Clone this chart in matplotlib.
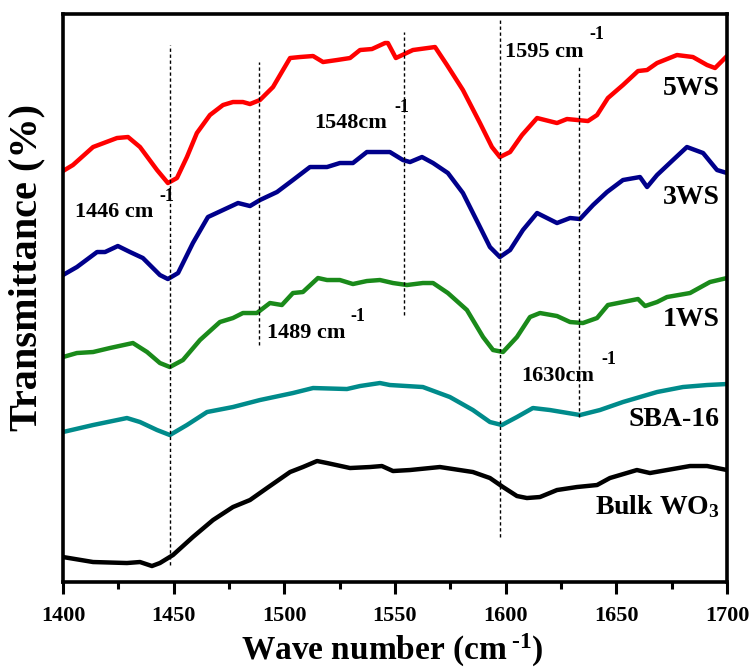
import numpy as np
import matplotlib
matplotlib.use("Agg")
import matplotlib.pyplot as plt

plt.rcParams['font.family'] = ['Liberation Serif', 'DejaVu Serif']
plt.rcParams['font.weight'] = 'bold'
plt.rcParams['mathtext.fontset'] = 'custom'
plt.rcParams['mathtext.rm'] = 'Liberation Serif:bold'
plt.rcParams['mathtext.bf'] = 'Liberation Serif:bold'
plt.rcParams['mathtext.it'] = 'Liberation Serif:bold:italic'

# FTIR spectra, offset stacked (arbitrary transmittance units)
wn_5ws = [1400, 1404.5, 1413.6, 1424.4, 1429.4, 1434.8, 1442.5, 1447.4, 1451.5, 1456.0,
          1460.5, 1466.4, 1472.3, 1476.8, 1481.3, 1484.5, 1489.0, 1494.9, 1499.4, 1502.6,
          1507.1, 1513.0, 1517.5, 1523.8, 1529.7, 1534.2, 1539.6, 1545.5, 1546.8, 1550.4,
          1558.1, 1568.1, 1573.5, 1580.7, 1588.4, 1593.8, 1597.4, 1602.0, 1607.4, 1614.2,
          1623.2, 1627.7, 1637.2, 1641.3, 1646.2, 1653.0, 1659.8, 1663.9, 1668.4, 1677.4,
          1684.6, 1691.0, 1694.6, 1700]
t_5ws = [411, 417, 435, 444, 445, 435, 412, 399, 404, 425,
         449, 467, 477, 480, 480, 478, 482, 495, 512, 524,
         525, 526, 520, 522, 524, 532, 533, 539, 539, 524,
         532, 535, 517, 492, 459, 435, 425, 430, 447, 464,
         459, 463, 461, 467, 484, 497, 511, 512, 519, 527,
         525, 517, 514, 526]

wn_3ws = [1400, 1406.3, 1415.4, 1419.0, 1424.8, 1430.3, 1436.1, 1443.8, 1447.4, 1452.0,
          1458.7, 1465.5, 1472.3, 1479.1, 1484.5, 1489.0, 1496.7, 1503.9, 1511.6, 1519.3,
          1525.1, 1531.0, 1537.3, 1541.9, 1547.7, 1553.6, 1556.8, 1562.2, 1567.2, 1573.9,
          1580.7, 1587.5, 1592.9, 1597.4, 1602.0, 1607.8, 1614.2, 1623.2, 1629.1, 1633.6,
          1639.5, 1645.8, 1653.0, 1660.7, 1663.9, 1668.4, 1675.6, 1681.9, 1689.2, 1695.5,
          1700]
t_3ws = [307, 315, 330, 330, 336, 330, 324, 307, 303, 309,
         339, 365, 372, 379, 376, 382, 390, 402, 415, 415,
         419, 419, 430, 430, 430, 422, 420, 425, 419, 409,
         389, 359, 335, 325, 332, 352, 369, 359, 364, 363,
         377, 390, 402, 405, 395, 407, 422, 435, 429, 412,
         409]

wn_1ws = [1400, 1406.3, 1413.6, 1421.2, 1431.6, 1438.0, 1443.8, 1448.3, 1454.2, 1461.9,
          1470.9, 1476.8, 1481.3, 1487.6, 1493.5, 1498.9, 1503.9, 1508.4, 1515.2, 1519.3,
          1525.1, 1531.0, 1537.3, 1543.2, 1549.1, 1555.4, 1562.6, 1567.2, 1573.9, 1582.5,
          1589.8, 1594.3, 1598.8, 1605.1, 1611.0, 1615.5, 1623.2, 1629.1, 1634.9, 1641.3,
          1646.2, 1653.0, 1659.8, 1663.0, 1668.4, 1672.9, 1683.3, 1692.3, 1700]
t_1ws = [225, 229, 230, 234, 239, 230, 219, 215, 222, 242,
         260, 264, 269, 269, 279, 277, 289, 290, 304, 302,
         302, 298, 301, 302, 299, 297, 299, 299, 289, 272,
         245, 232, 230, 245, 265, 269, 266, 260, 259, 264,
         277, 280, 283, 276, 280, 285, 289, 300, 304]

wn_sba = [1400, 1413.6, 1428.9, 1434.8, 1442.5, 1448.3, 1456.0, 1465.1, 1476.8, 1489.0,
          1503.9, 1513.0, 1528.3, 1534.2, 1543.2, 1547.7, 1562.6, 1574.8, 1585.2, 1592.9,
          1598.3, 1605.1, 1612.3, 1620.0, 1633.6, 1642.6, 1653.0, 1668.4, 1680.1, 1691.0,
          1700]
t_sba = [150, 157, 164, 160, 152, 147, 157, 170, 175, 182,
         189, 194, 193, 196, 199, 197, 195, 185, 172, 160,
         157, 165, 174, 172, 167, 172, 180, 190, 195, 197,
         198]

wn_wo3 = [1400, 1413.6, 1428.9, 1434.8, 1440.2, 1443.8, 1449.7, 1458.7, 1467.8, 1476.8,
          1484.5, 1492.2, 1502.6, 1508.4, 1514.8, 1519.3, 1529.7, 1538.7, 1544.1, 1549.1,
          1556.8, 1570.3, 1585.2, 1592.9, 1598.8, 1605.1, 1609.6, 1615.5, 1623.2, 1632.2,
          1641.3, 1647.1, 1659.3, 1665.2, 1672.9, 1683.3, 1691.0, 1700]
t_wo3 = [25, 20, 19, 20, 16, 19, 27, 45, 62, 75,
         82, 94, 110, 115, 121, 119, 114, 115, 116, 111,
         112, 115, 110, 104, 95, 86, 84, 85, 92, 95,
         97, 104, 112, 109, 112, 116, 116, 112]

series = [
    (wn_5ws, t_5ws, '#ff0000', '5WS', 494),
    (wn_3ws, t_3ws, '#00008b', '3WS', 385),
    (wn_1ws, t_1ws, '#1a8a1a', '1WS', 263),
    (wn_sba, t_sba, '#008b8b', 'SBA-16', 163),
    (wn_wo3, t_wo3, '#000000', 'Bulk WO$_3$', 75),
]

# band positions marked by dashed guides: (wavenumber, lower, upper)
peak_wn = [1448.3, 1488.7, 1554.1, 1597.4, 1633.3]
peak_lo = [17, 237, 267, 45, 165]
peak_hi = [537, 520, 550, 564, 515]

# band labels: text, text position, superscript position
band_text = ['1446 cm', '1548cm', '1595 cm', '1489 cm', '1630cm']
band_xy = [(1423.0, 370), (1530.0, 459), (1617.5, 530), (1510.0, 249), (1623.5, 206)]
band_sup = [(1447.0, 386), (1553.0, 475), (1641.0, 548), (1533.0, 266), (1646.5, 223)]

fig = plt.figure(figsize=(7.55, 6.71), dpi=100)
ax = fig.add_axes([0.0834, 0.1326, 0.8795, 0.8465])

for wn, t, c, name, ty in series:
    ax.plot(wn, t, color=c, lw=3.2, solid_joinstyle='round', solid_capstyle='round')
    ax.text(1696.8, ty, name, ha='right', va='center', fontsize=20, fontweight='bold')

for x, lo, hi in zip(peak_wn, peak_lo, peak_hi):
    ax.plot([x, x], [lo, hi], color='black', lw=1.0, dashes=(2.4, 1.9))

for s, (x, y), (sx, sy) in zip(band_text, band_xy, band_sup):
    ax.text(x, y, s, ha='center', va='center', fontsize=16, fontweight='bold')
    ax.text(sx, sy, '-1', ha='center', va='center', fontsize=13, fontweight='bold')

ax.set_xlim(1400, 1700)
ax.set_ylim(0, 568)
ax.set_xticks(np.arange(1400, 1701, 50))
ax.set_xticks(np.arange(1425, 1700, 50), minor=True)
ax.set_yticks([])
ax.tick_params(axis='x', which='major', direction='out', length=8.5, width=2.2,
               labelsize=16, pad=9)
ax.tick_params(axis='x', which='minor', direction='out', length=5, width=2.2)
for lab in ax.get_xticklabels():
    lab.set_fontweight('bold')
for sp in ax.spines.values():
    sp.set_linewidth(2.6)

# U+2010 keeps the exponent sign a short hyphen inside mathtext
ax.set_xlabel('Wave number (cm$^{\\;\u20101}$)', fontsize=24, fontweight='bold')
ax.xaxis.set_label_coords(0.4955, -0.088)
ax.set_ylabel('Transmittance (%)', fontsize=29, fontweight='bold')
ax.yaxis.set_label_coords(-0.027, 0.553)

fig.savefig('out.png', dpi=100)
